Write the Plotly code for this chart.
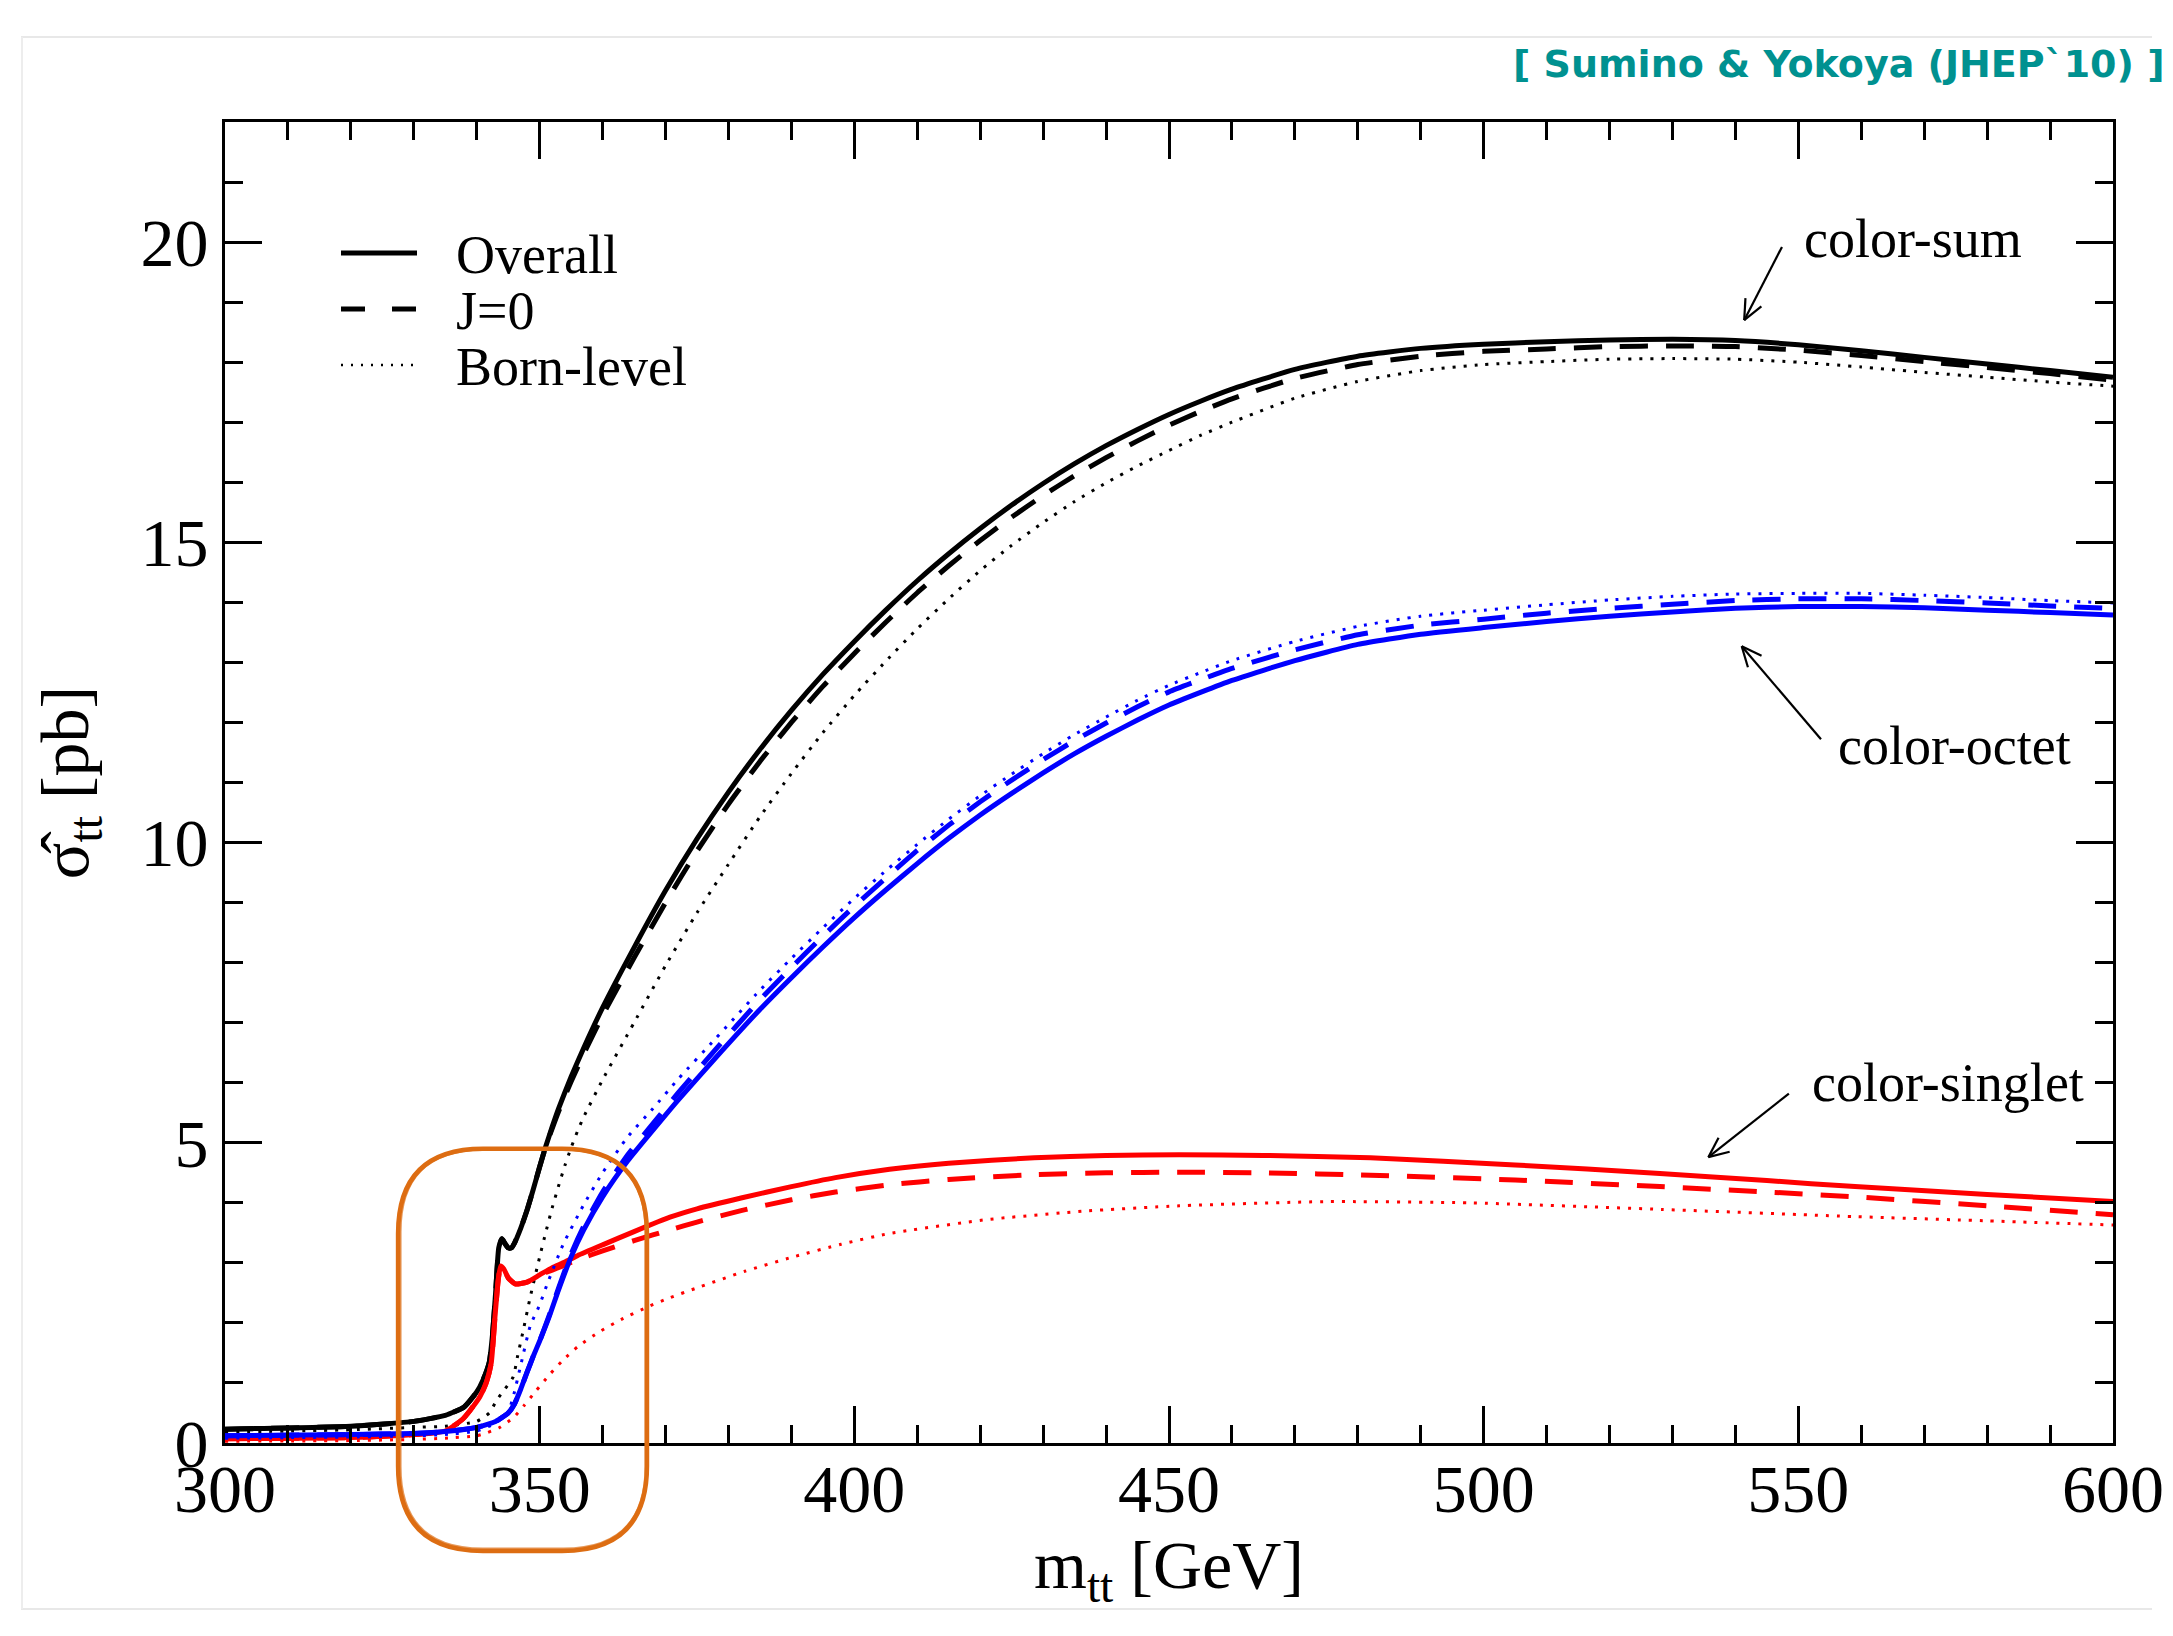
import plotly.graph_objects as go
import math

# ---------------- data ----------------
X_SUM = [300, 320, 330, 335, 338, 340, 341, 342, 342.5, 343, 343.5, 344, 344.5, 345, 345.5,
         346, 347, 348, 349, 350, 351, 352, 353, 355, 357, 360, 365, 370, 375, 380, 385, 390,
         395, 400, 405, 410, 415, 420, 425, 430, 435, 440, 445, 450, 455, 460, 470, 480, 490,
         500, 510, 520, 530, 540, 550, 560, 570, 580, 590, 600]
SUM_OVERALL = [0.23, 0.28, 0.36, 0.46, 0.6, 0.85, 1.05, 1.35, 1.8, 2.5, 3.25, 3.4, 3.32, 3.25, 3.25,
               3.33, 3.58, 3.88, 4.23, 4.6, 4.95, 5.27, 5.57, 6.1, 6.58, 7.25, 8.25, 9.2, 10.06, 10.84,
               11.55, 12.2, 12.8, 13.35, 13.87, 14.36, 14.81, 15.23, 15.62, 15.98, 16.31, 16.61,
               16.88, 17.13, 17.35, 17.55, 17.88, 18.1, 18.23, 18.3, 18.34, 18.37, 18.38, 18.36,
               18.29, 18.19, 18.08, 17.97, 17.86, 17.75]
SUM_J0 = [0.23, 0.28, 0.36, 0.46, 0.6, 0.85, 1.05, 1.35, 1.8, 2.5, 3.25, 3.4, 3.32, 3.25, 3.25,
          3.33, 3.58, 3.88, 4.23, 4.6, 4.95, 5.24, 5.52, 6.02, 6.48, 7.12, 8.08, 9.0, 9.86, 10.64,
          11.35, 12.0, 12.6, 13.15, 13.67, 14.16, 14.61, 15.03, 15.42, 15.78, 16.11, 16.41,
          16.69, 16.95, 17.18, 17.39, 17.73, 17.96, 18.1, 18.18, 18.22, 18.26, 18.27, 18.26,
          18.2, 18.11, 18.01, 17.91, 17.81, 17.7]
X_SUM_BORN = [300, 320, 330, 335, 340, 342, 343.2, 344.5, 345.8, 346.5, 347.4, 348.5, 350, 351,
              352, 353, 354, 355, 356, 357, 360, 365, 370, 375, 380, 385, 390, 395, 400, 405, 410,
              415, 420, 425, 430, 435, 440, 445, 450, 455, 460, 470, 480, 490, 500, 510, 520, 530,
              540, 550, 560, 570, 580, 590, 600]
SUM_BORN = [0.18, 0.22, 0.26, 0.28, 0.36, 0.5, 0.72, 0.9, 1.1, 1.45, 1.88, 2.43, 3.1, 3.52,
            3.92, 4.28, 4.62, 4.92, 5.19, 5.43, 6.05, 7.0, 7.95, 8.83, 9.64, 10.43, 11.15, 11.83,
            12.45, 13.02, 13.56, 14.06, 14.53, 14.95, 15.33, 15.68, 15.99, 16.27, 16.53, 16.78,
            17.0, 17.4, 17.68, 17.86, 17.96, 18.01, 18.05, 18.06, 18.05, 18.0, 17.92, 17.83,
            17.75, 17.67, 17.6]

X_OCT = [300, 320, 330, 335, 340, 343, 345, 346, 347, 348, 349, 350, 351.5, 353, 355, 357, 360,
         364, 368, 372, 378, 385, 390, 395, 400, 405, 410, 415, 420, 425, 430, 435, 440, 445, 450,
         455, 460, 470, 480, 490, 500, 510, 520, 530, 540, 550, 560, 570, 580, 590, 600]
OCT_OVERALL = [0.12, 0.14, 0.16, 0.19, 0.26, 0.36, 0.5, 0.65, 0.9, 1.18, 1.45, 1.7, 2.1, 2.55, 3.1,
               3.55, 4.1, 4.7, 5.21, 5.71, 6.42, 7.22, 7.75, 8.26, 8.75, 9.21, 9.65, 10.07, 10.46,
               10.82, 11.16, 11.48, 11.77, 12.04, 12.29, 12.5, 12.7, 13.03, 13.3, 13.47, 13.58,
               13.68, 13.77, 13.84, 13.9, 13.93, 13.93, 13.91, 13.87, 13.83, 13.79]
OCT_J0 = [0.12, 0.14, 0.16, 0.19, 0.26, 0.36, 0.5, 0.65, 0.9, 1.18, 1.45, 1.7, 2.12, 2.58, 3.15,
          3.61, 4.18, 4.8, 5.32, 5.83, 6.56, 7.38, 7.92, 8.44, 8.94, 9.41, 9.87, 10.29, 10.68,
          11.04, 11.38, 11.7, 11.99, 12.26, 12.51, 12.71, 12.9, 13.21, 13.46, 13.62, 13.72,
          13.82, 13.9, 13.97, 14.03, 14.06, 14.06, 14.03, 13.99, 13.94, 13.9]
X_OCT_BORN = [300, 320, 330, 335, 340, 343, 345, 345.8, 347, 348.5, 350, 351.1, 353.7, 356.9, 360,
              364, 368, 372, 378, 385, 390, 395, 400, 405, 410, 415, 420, 425, 430, 435, 440, 445,
              450, 455, 460, 470, 480, 490, 500, 510, 520, 530, 540, 550, 560, 570, 580, 590, 600]
OCT_BORN = [0.08, 0.1, 0.12, 0.14, 0.2, 0.33, 0.52, 0.77, 1.3, 1.95, 2.3, 2.62, 3.3, 3.95, 4.5,
            5.1, 5.57, 6.06, 6.74, 7.54, 8.07, 8.58, 9.07, 9.53, 9.97, 10.39, 10.78, 11.14, 11.48,
            11.8, 12.09, 12.37, 12.62, 12.83, 13.03, 13.35, 13.6, 13.77, 13.87, 13.96, 14.04, 14.1,
            14.14, 14.15, 14.15, 14.12, 14.08, 14.03, 13.99]

X_SING = [300, 320, 330, 335, 337.8, 339, 340.5, 341.5, 342.3, 342.9, 343.4, 343.8, 344.3, 345,
          346.1, 348, 350, 352, 353.7, 356, 360, 365, 370.7, 375, 382, 390, 397, 405.6, 415, 428.6,
          440, 451.6, 465, 482, 505, 528, 545, 559, 580, 600]
SING_OVERALL = [0.07, 0.09, 0.14, 0.2, 0.4, 0.55, 0.77, 1.0, 1.33, 2.1, 2.7, 2.95, 2.9, 2.75, 2.65,
                2.68, 2.8, 2.92, 3.0, 3.12, 3.3, 3.52, 3.76, 3.9, 4.08, 4.27, 4.42, 4.56, 4.66, 4.75,
                4.79, 4.8, 4.79, 4.75, 4.63, 4.49, 4.37, 4.27, 4.14, 4.02]
SING_J0 = [0.07, 0.09, 0.14, 0.2, 0.4, 0.55, 0.77, 1.0, 1.33, 2.1, 2.7, 2.95, 2.9, 2.75, 2.65,
           2.68, 2.8, 2.88, 2.95, 3.05, 3.2, 3.37, 3.55, 3.68, 3.87, 4.05, 4.18, 4.3, 4.39, 4.47,
           4.5, 4.51, 4.5, 4.46, 4.38, 4.27, 4.18, 4.1, 3.95, 3.8]
X_SING_BORN = [300, 320, 330, 335, 340, 341.6, 343.5, 345.8, 347.5, 349.5, 351.5, 353.7, 356, 359.6,
               363, 367.2, 370.7, 374.9, 382.6, 390.3, 397.9, 405.6, 421, 436.3, 451.6, 474.6, 497.6,
               528.3, 559, 580, 600]
SING_BORN = [0.03, 0.04, 0.06, 0.08, 0.12, 0.17, 0.25, 0.42, 0.62, 0.88, 1.13, 1.38, 1.6, 1.86,
             2.06, 2.27, 2.42, 2.58, 2.86, 3.1, 3.31, 3.49, 3.72, 3.86, 3.95, 4.02, 4.0, 3.89, 3.77,
             3.7, 3.63]

X_TICKS = [300, 350, 400, 450, 500, 550, 600]
Y_TICKS = [0, 5, 10, 15, 20]
X_RANGE = [300, 600]
Y_RANGE = [0, 22]

LEGEND_LABELS = ["Overall", "J=0", "Born-level"]
CURVE_LABELS = ["color-sum", "color-octet", "color-singlet"]
SOURCE = "[ Sumino &amp; Yokoya (JHEP`10) ]"

# ---------------- layout geometry ----------------
W, H = 2173, 1636
PL, PR, PT, PB = 225, 2113, 122, 1443
SERIF = "Liberation Serif, Times New Roman, serif"
BLACK, BLUE, RED = "#000000", "#0000FF", "#FF0000"
ORANGE = "#DD6D12"
TEAL = "#009190"

SOLID_W, DASH_W, DOT_W = 5, 5, 3
DASH = "28px,18px"
DOT = "3px,8px"


def d2px(x, y):
    px = PL + (x - X_RANGE[0]) / (X_RANGE[1] - X_RANGE[0]) * (PR - PL)
    py = PB - (y - Y_RANGE[0]) / (Y_RANGE[1] - Y_RANGE[0]) * (PB - PT)
    return px, py


def px2paper(px, py):
    return (px - PL) / (PR - PL), (PB - py) / (PB - PT)


fig = go.Figure()

series = [
    (X_SUM_BORN, SUM_BORN, BLACK, DOT_W, DOT, "color-sum Born-level"),
    (X_SUM, SUM_J0, BLACK, DASH_W, DASH, "color-sum J=0"),
    (X_SUM, SUM_OVERALL, BLACK, SOLID_W, "solid", "color-sum Overall"),
    (X_SING_BORN, SING_BORN, RED, DOT_W, DOT, "color-singlet Born-level"),
    (X_SING, SING_J0, RED, DASH_W, DASH, "color-singlet J=0"),
    (X_SING, SING_OVERALL, RED, SOLID_W, "solid", "color-singlet Overall"),
    (X_OCT_BORN, OCT_BORN, BLUE, DOT_W, DOT, "color-octet Born-level"),
    (X_OCT, OCT_J0, BLUE, DASH_W, DASH, "color-octet J=0"),
    (X_OCT, OCT_OVERALL, BLUE, SOLID_W, "solid", "color-octet Overall"),
]
for xs, ys, col, w, dash, name in series:
    fig.add_trace(go.Scatter(x=xs, y=ys, mode="lines", name=name, showlegend=False,
                             line=dict(color=col, width=w, dash=dash, shape="spline", smoothing=0.5),
                             cliponaxis=True))

shapes = []
annotations = []

# ---- legend (drawn by hand, xmgrace style) ----
leg_rows = [(253, "solid", 5), (309, "24px,27px", 5), (365, "2px,8px", 2.5)]
for (py, dash, w), label in zip(leg_rows, LEGEND_LABELS):
    x0, y0 = px2paper(341, py)
    x1, _ = px2paper(417, py)
    shapes.append(dict(type="line", xref="paper", yref="paper", x0=x0, x1=x1, y0=y0, y1=y0,
                       line=dict(color=BLACK, width=w, dash=dash)))
    tx, ty = px2paper(454, py + 2)
    annotations.append(dict(xref="paper", yref="paper", x=tx, y=ty, text=label, showarrow=False,
                            xanchor="left", yanchor="middle",
                            font=dict(family=SERIF, size=54, color=BLACK)))

# ---- curve labels with open-head arrows ----
curve_notes = [
    (CURVE_LABELS[0], 550.6, 20.05, (547.4, 19.92), (541.4, 18.70)),
    (CURVE_LABELS[1], 556.0, 11.6, (553.6, 11.72), (541.0, 13.27)),
    (CURVE_LABELS[2], 551.9, 6.0, (548.5, 5.82), (535.7, 4.76)),
]
for label, tx, ty, tail, head in curve_notes:
    annotations.append(dict(xref="x", yref="y", x=tx, y=ty, text=label, showarrow=False,
                            xanchor="left", yanchor="middle",
                            font=dict(family=SERIF, size=54, color=BLACK)))
    tpx = d2px(*tail)
    hpx = d2px(*head)
    ang = math.atan2(tpx[1] - hpx[1], tpx[0] - hpx[0])
    a0 = px2paper(*hpx)
    a1 = px2paper(*tpx)
    shapes.append(dict(type="line", xref="paper", yref="paper", x0=a0[0], y0=a0[1],
                       x1=a1[0], y1=a1[1], line=dict(color=BLACK, width=2.2)))
    for s in (1, -1):
        wa = ang + s * math.radians(24)
        wx, wy = hpx[0] + 22 * math.cos(wa), hpx[1] + 22 * math.sin(wa)
        a1 = px2paper(wx, wy)
        shapes.append(dict(type="line", xref="paper", yref="paper", x0=a0[0], y0=a0[1],
                           x1=a1[0], y1=a1[1], line=dict(color=BLACK, width=2.2)))

# ---- hand-drawn orange rounded box around the threshold region ----
BOX_X = [327.5, 367.05]
BOX_Y = [-1.8, 4.9]


def rounded_path(xa, xb, ya, yb, rpx, off=0.0):
    (p0x, p0y) = d2px(xa, yb)
    (p1x, p1y) = d2px(xb, ya)
    p0x += off; p1x -= off * 0.6; p0y += off * 0.5; p1y -= off
    r = rpx

    def P(x, y):
        u, v = px2paper(x, y)
        return f"{u:.5f},{v:.5f}"
    return (f"M {P(p0x + r, p0y)} L {P(p1x - r, p0y)} Q {P(p1x, p0y)} {P(p1x, p0y + r)} "
            f"L {P(p1x, p1y - r)} Q {P(p1x, p1y)} {P(p1x - r, p1y)} "
            f"L {P(p0x + r, p1y)} Q {P(p0x, p1y)} {P(p0x, p1y - r)} "
            f"L {P(p0x, p0y + r)} Q {P(p0x, p0y)} {P(p0x + r, p0y)} Z")


shapes.append(dict(type="path", xref="paper", yref="paper",
                   path=rounded_path(BOX_X[0], BOX_X[1], BOX_Y[0], BOX_Y[1], 85),
                   line=dict(color=ORANGE, width=4.5), layer="above"))
shapes.append(dict(type="path", xref="paper", yref="paper",
                   path=rounded_path(BOX_X[0], BOX_X[1], BOX_Y[0], BOX_Y[1], 82, off=2.5),
                   line=dict(color=ORANGE, width=2), opacity=0.7, layer="above"))

# ---- faint slide frame lines ----
for py in (37, 1609):
    a0 = px2paper(21, py)
    a1 = px2paper(2152, py)
    shapes.append(dict(type="line", xref="paper", yref="paper", x0=a0[0], y0=a0[1], x1=a1[0], y1=a1[1],
                       line=dict(color="#E8E8E8", width=2), layer="below"))
a0 = px2paper(22, 37)
a1 = px2paper(22, 1609)
shapes.append(dict(type="line", xref="paper", yref="paper", x0=a0[0], y0=a0[1], x1=a1[0], y1=a1[1],
                   line=dict(color="#EDEDED", width=2), layer="below"))

# ---- source tag ----
sx, sy = px2paper(2167, 64)
annotations.append(dict(xref="paper", yref="paper", x=sx, y=sy, text=f"<b>{SOURCE}</b>", showarrow=False,
                        xanchor="right", yanchor="middle",
                        font=dict(family="DejaVu Sans, Verdana, sans-serif", size=38, color=TEAL)))

axis_common = dict(showline=True, linecolor=BLACK, linewidth=3, mirror="ticks", ticks="inside",
                   tickcolor=BLACK, tickwidth=3, ticklen=37, showgrid=False, zeroline=False,
                   automargin=False, tickfont=dict(family=SERIF, size=68, color=BLACK))

fig.update_layout(
    width=W, height=H,
    margin=dict(l=PL, r=W - PR, t=PT, b=H - PB, pad=0),
    paper_bgcolor="white", plot_bgcolor="white",
    showlegend=False,
    xaxis=dict(range=X_RANGE, tickvals=X_TICKS, ticktext=[str(v) for v in X_TICKS],
               minor=dict(ticks="inside", dtick=10, tick0=300, ticklen=18, tickwidth=3, tickcolor=BLACK),
               title=dict(text="m<sub>tt</sub> [GeV]", font=dict(family=SERIF, size=68, color=BLACK),
                          standoff=0),
               ticklabelstandoff=-16,
               **axis_common),
    yaxis=dict(range=Y_RANGE, tickvals=Y_TICKS, ticktext=[str(v) for v in Y_TICKS],
               minor=dict(ticks="inside", dtick=1, tick0=0, ticklen=18, tickwidth=3, tickcolor=BLACK),
               title=dict(text="σ̂<sub>tt</sub> [pb]", font=dict(family=SERIF, size=68, color=BLACK),
                          standoff=30),
               ticklabelstandoff=0,
               **axis_common),
    shapes=shapes,
    annotations=annotations,
)

fig.write_html("out.html")
